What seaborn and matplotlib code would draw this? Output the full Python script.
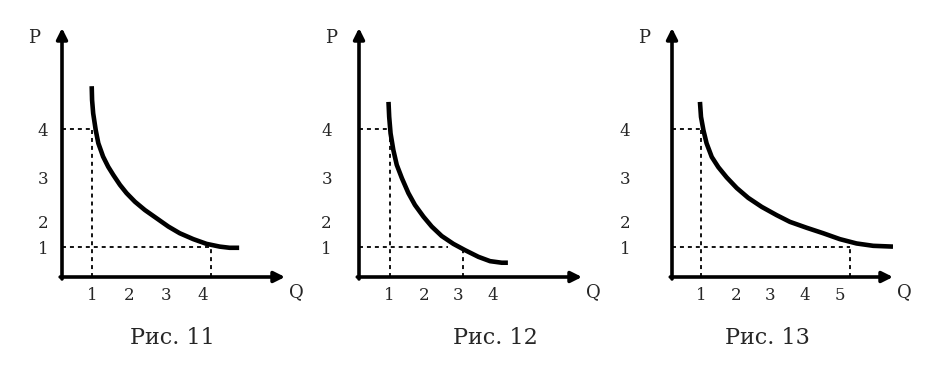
import pandas as pd
import seaborn as sns
import matplotlib.pyplot as plt

# demand curves (Q, P)
q_11 = [0.98, 0.99, 1.02, 1.09, 1.16, 1.29, 1.43, 1.57, 1.75, 1.93, 2.16, 2.43, 2.75, 3.07, 3.38, 3.75, 4.11, 4.47, 4.74, 5.00]
p_11 = [5.09, 4.74, 4.40, 3.97, 3.64, 3.30, 3.04, 2.83, 2.58, 2.37, 2.15, 1.94, 1.73, 1.52, 1.35, 1.20, 1.08, 1.01, 0.98, 0.98]

q_12 = [0.97, 0.99, 1.03, 1.11, 1.21, 1.36, 1.55, 1.74, 1.99, 2.23, 2.52, 2.86, 3.20, 3.59, 3.93, 4.27, 4.45]
p_12 = [4.69, 4.31, 3.89, 3.47, 3.09, 2.75, 2.37, 2.07, 1.77, 1.52, 1.28, 1.08, 0.92, 0.75, 0.64, 0.60, 0.60]

q_13 = [0.97, 1.00, 1.07, 1.16, 1.31, 1.50, 1.74, 2.03, 2.36, 2.75, 3.18, 3.56, 4.04, 4.52, 5.00, 5.48, 5.96, 6.53]
p_13 = [4.69, 4.31, 3.97, 3.64, 3.29, 3.03, 2.77, 2.50, 2.25, 2.02, 1.81, 1.64, 1.49, 1.35, 1.20, 1.09, 1.03, 1.01]

# tick labels (the y labels 2 and 3 sit off their true level in the original)
x_ticks_11 = [1, 2, 3, 4]
x_ticks_12 = [1, 2, 3, 4]
x_ticks_13 = [1, 2, 3, 4, 5]
y_tick_pos = [1.0, 1.64, 2.78, 4.0]
y_tick_labels = ['1', '2', '3', '4']

# dotted guide lines
q_at_p4 = [1.0, 1.0, 1.0]
q_end_p1 = [4.23, 2.71, 5.29]
q_drop = [4.23, 3.14, 5.29]
p_drop = [1.0, 0.90, 1.0]

titles = ['Рис. 11', 'Рис. 12', 'Рис. 13']

sns.set_style('white')
plt.rcParams['font.family'] = ['DejaVu Serif']

W, H = 936, 373
fig = plt.figure(figsize=(W / 100, H / 100), dpi=100)

# pixel boxes of each panel: left, right
boxes = [(62, 285), (359, 582), (672, 893)]
xlims = [(0.17, 6.25), (0.11, 6.61), (0.165, 6.53)]
ylim = (0.237, 6.57)
ypads = [10, 19.5, 30]
title_x = [172, 495, 767]

curves = [(q_11, p_11, x_ticks_11), (q_12, p_12, x_ticks_12), (q_13, p_13, x_ticks_13)]

for i, (q, p, xt) in enumerate(curves):
    l, r = boxes[i]
    ax = fig.add_axes([l / W, (H - 277) / H, (r - l) / W, 249 / H])
    x0, x1 = xlims[i]
    y0, y1 = ylim
    ax.set_xlim(x0, x1)
    ax.set_ylim(y0, y1)
    for s in ax.spines.values():
        s.set_visible(False)
    ax.set_facecolor('none')

    df = pd.DataFrame({'Q': q, 'P': p})
    sns.lineplot(data=df, x='Q', y='P', ax=ax, color='black', lw=3.3,
                 sort=False, solid_capstyle='butt', solid_joinstyle='round')

    # dotted guides
    dot = dict(color='black', lw=1.3, linestyle=(0, (2.2, 2.2)))
    ax.plot([x0, q_at_p4[i]], [4, 4], **dot)
    ax.plot([q_at_p4[i], q_at_p4[i]], [y0, 4], **dot)
    ax.plot([x0, q_end_p1[i]], [1, 1], **dot)
    ax.plot([q_drop[i], q_drop[i]], [y0, p_drop[i]], **dot)

    # axes with arrows
    arr = dict(arrowstyle='-|>', lw=2.6, color='black', mutation_scale=16,
               shrinkA=0, shrinkB=0)
    ax.annotate('', xy=(x1, y0), xytext=(x0 - 0.05, y0), arrowprops=arr, annotation_clip=False)
    ax.annotate('', xy=(x0, y1), xytext=(x0, y0 - 0.05), arrowprops=arr, annotation_clip=False)

    ax.set_xticks(xt)
    ax.set_xticklabels([str(v) for v in xt])
    ax.set_yticks(y_tick_pos)
    ax.set_yticklabels(y_tick_labels)
    ax.tick_params(axis='x', length=0, labelsize=12, pad=7)
    ax.tick_params(axis='y', length=0, labelsize=12, pad=ypads[i])
    ax.set_xlabel('')
    ax.set_ylabel('')

    ax.annotate('P', xy=(0, 1), xycoords='axes fraction', xytext=(-20, -7),
                textcoords='offset points', ha='center', va='center', fontsize=13)
    ax.annotate('Q', xy=(1, 0), xycoords='axes fraction', xytext=(8.5, -11),
                textcoords='offset points', ha='center', va='center', fontsize=13)

    fig.text(title_x[i] / W, 1 - 338 / H, titles[i], ha='center', va='center', fontsize=16)

plt.savefig('out.png', dpi=100)
